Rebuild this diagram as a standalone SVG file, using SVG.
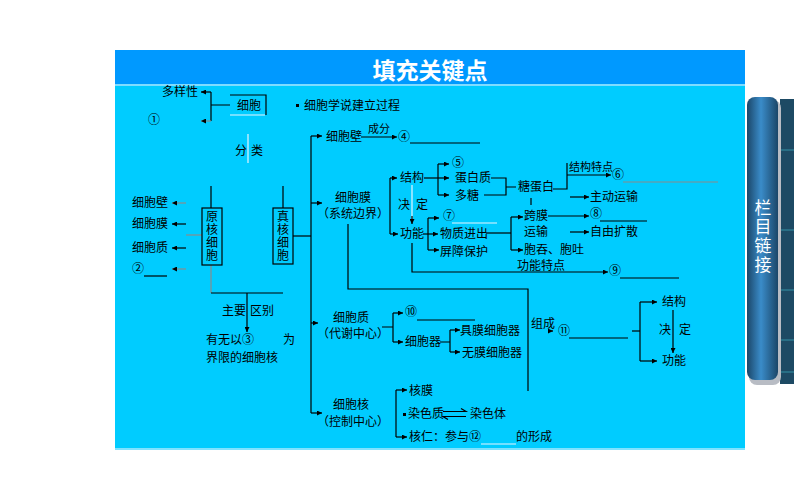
<svg xmlns="http://www.w3.org/2000/svg" width="794" height="496" viewBox="0 0 794 496">
<defs>
<style>
.t{font-family:"Noto Sans CJK SC","Noto Sans",sans-serif;font-size:12px;fill:#000}
.s{font-size:11px}
.v{writing-mode:vertical-rl;letter-spacing:1.3px}
.ln{stroke:#000;stroke-width:1.2;fill:none}
.g{stroke:#8a8a8a;stroke-width:1.2;fill:none}
.w{stroke:#e8f4ff;stroke-width:1.2;fill:none}
.u{stroke:#000;stroke-width:1.2}
.box{fill:none;stroke:#000;stroke-width:1.2}
.tab{font-family:"Noto Sans CJK SC","Noto Sans",sans-serif;font-size:17px;fill:#fff;writing-mode:vertical-rl;letter-spacing:2px}
</style>
<marker id="a" viewBox="0 0 6 6" refX="6" refY="3" markerWidth="5" markerHeight="5" orient="auto" markerUnits="userSpaceOnUse"><path d="M0,0 L6,3 L0,6 z" fill="#000"/></marker>
<linearGradient id="tg" x1="0" y1="0" x2="1" y2="0">
<stop offset="0" stop-color="#1b4668"/><stop offset="0.45" stop-color="#3a8cc9"/><stop offset="1" stop-color="#1b4668"/>
</linearGradient>
</defs>
<rect width="794" height="496" fill="#fff"/>
<!-- panel -->
<rect x="115" y="50" width="630" height="35" fill="#0099ff"/>
<rect x="115" y="84" width="630" height="2" fill="#7fdcff"/>
<rect x="115" y="86" width="630" height="363" fill="#00ccff"/>
<rect x="115" y="448" width="630" height="2" fill="#7fe3ff"/>
<text x="430" y="79" text-anchor="middle" font-family="Noto Sans CJK SC,sans-serif" font-size="23" font-weight="bold" fill="#fff">填充关键点</text>
<!-- right tab -->
<g id="tab">
<rect x="780" y="99" width="14" height="285" fill="#1d4a64"/>
<path d="M781 150H794M781 230H794M781 290H794M781 340H794M781 372H794" stroke="#3aa6b8" stroke-width="0.8"/>
<rect x="749" y="100" width="32" height="285" rx="8" fill="#b8bcc4"/>
<rect x="747" y="97" width="31" height="283" rx="8" fill="url(#tg)"/>
<text class="tab" x="763" y="199">栏目链接</text>
</g>
<!-- connectors -->
<g id="connectors">
<path class="ln" d="M211 92V121M230 105H211" />
<path class="ln" d="M211 92H201" marker-end="url(#a)"/>
<path class="g" d="M211 121H201" marker-end="url(#a)"/>
<path class="ln" d="M230 95H266V115"/>
<path class="w" d="M230 115H265"/>
<path class="w" d="M248 134V163"/>
<path class="ln" d="M211 186V208M283 186V208"/>
<path class="g" d="M186 203H172" marker-end="url(#a)"/>
<path class="ln" d="M186 224H172" marker-end="url(#a)"/>
<path class="ln" d="M186 248H172" marker-end="url(#a)"/>
<path class="g" d="M186 269H172" marker-end="url(#a)"/>
<path class="g" d="M186 235H202"/>
<path class="g" d="M211 265V293"/>
<path class="ln" d="M211 293H283"/>
<path class="ln" d="M247 293V332" marker-end="url(#a)"/>
<path class="ln" d="M293 236H311"/>
<path class="ln" d="M311 136V413"/>
<path class="ln" d="M311 136H322" marker-end="url(#a)"/>
<path class="ln" d="M311 203H322" marker-end="url(#a)"/>
<path class="ln" d="M311 323H318" marker-end="url(#a)"/>
<path class="ln" d="M311 413H322" marker-end="url(#a)"/>
<path class="ln" d="M361 137H397" marker-end="url(#a)"/>
<path class="ln" d="M390 178V234"/>
<path class="ln" d="M390 178H397" marker-end="url(#a)"/>
<path class="ln" d="M390 234H398" marker-end="url(#a)"/>
<path class="w" d="M412 185V222"/>
<path class="ln" d="M412 216V224" marker-end="url(#a)"/>
<path class="ln" d="M424 178H449" marker-end="url(#a)"/>
<path class="ln" d="M438 164V195"/>
<path class="ln" d="M438 164H449" marker-end="url(#a)"/>
<path class="ln" d="M438 195H449" marker-end="url(#a)"/>
<path class="ln" d="M491 178H506V195H484M506 187H516"/>
<path class="ln" d="M553 189H567V163"/>
<path class="ln" d="M567 175H611" marker-end="url(#a)"/>
<path class="ln" d="M531 198V205"/>
<path class="ln" d="M570 197H589" marker-end="url(#a)"/>
<path class="ln" d="M570 232H589" marker-end="url(#a)"/>
<path class="ln" d="M548 216H589" marker-end="url(#a)"/>
<path class="ln" d="M423 234H438" marker-end="url(#a)"/>
<path class="ln" d="M428 218V250"/>
<path class="ln" d="M428 218H439" marker-end="url(#a)"/>
<path class="ln" d="M428 250H439" marker-end="url(#a)"/>
<path class="ln" d="M486 233H511"/>
<path class="ln" d="M511 217V250"/>
<path class="ln" d="M511 217H523" marker-end="url(#a)"/>
<path class="ln" d="M511 250H523" marker-end="url(#a)"/>
<path class="ln" d="M412 243V272H608" marker-end="url(#a)"/>
<path class="ln" d="M348 224V289H528V391"/>
<path class="ln" d="M548 331H553" marker-end="url(#a)"/>
<path class="ln" d="M632 331H640"/>
<path class="ln" d="M640 302V361"/>
<path class="ln" d="M640 302H657" marker-end="url(#a)"/>
<path class="ln" d="M640 361H657" marker-end="url(#a)"/>
<path class="ln" d="M673 310V353" marker-end="url(#a)"/>
<path class="ln" d="M382 327H393M393 313V342"/>
<path class="ln" d="M393 313H403" marker-end="url(#a)"/>
<path class="ln" d="M393 342H403" marker-end="url(#a)"/>
<path class="ln" d="M440 342H450M450 330V352"/>
<path class="ln" d="M450 330H460" marker-end="url(#a)"/>
<path class="ln" d="M450 352H460" marker-end="url(#a)"/>
<path class="ln" d="M396 390V437"/>
<path class="ln" d="M396 390H407" marker-end="url(#a)"/>
<path class="ln" d="M396 437H407" marker-end="url(#a)"/>
<path class="ln" d="M443 411.5H466L461 408.5M466 416.5H443L448 419.5"/>
</g>
<!-- nodes -->
<g id="n-duoyang"><text class="t" x="162" y="96">多样性</text></g>
<g id="n-1"><text class="t" x="148" y="124">①</text></g>
<g id="n-xibao"><text class="t" x="237" y="110">细胞</text></g>
<g id="n-xueshuo"><rect x="296" y="104" width="3" height="3" fill="#000"/><text class="t" x="304" y="110">细胞学说建立过程</text></g>
<g id="n-fenlei"><text class="t" x="235" y="155">分</text><text class="t" x="251" y="155">类</text></g>
<g id="n-yuanhe"><rect class="box" x="202" y="208" width="20" height="57"/><text class="t v" x="212" y="210">原核细胞</text></g>
<g id="n-zhenhe"><rect class="box" x="273" y="208" width="20" height="56"/><text class="t v" x="283" y="210">真核细胞</text></g>
<g id="n-left"><text class="t" x="132" y="207">细胞壁</text><text class="t" x="132" y="228">细胞膜</text><text class="t" x="132" y="252">细胞质</text><text class="t" x="132" y="273">②</text><line class="u" x1="144" y1="276" x2="167" y2="276"/></g>
<g id="n-qubie"><text class="t" x="222" y="315">主要</text><text class="t" x="250" y="315">区别</text></g>
<g id="n-3"><text class="t" x="206" y="344">有无以③</text><text class="t" x="283" y="344">为</text><text class="t" x="206" y="362">界限的细胞核</text></g>
<g id="n-bi"><text class="t" x="326" y="141">细胞壁</text><text class="t s" x="368" y="133">成分</text></g>
<g id="n-4"><text class="t" x="398" y="141">④</text><line class="u" x1="410" y1="143" x2="480" y2="143"/></g>
<g id="n-mo"><text class="t" x="335" y="202">细胞膜</text><text class="t" x="317" y="218">（系统边界）</text></g>
<g id="n-jiegou"><text class="t" x="400" y="182">结构</text></g>
<g id="n-gongneng"><text class="t" x="400" y="238">功能</text></g>
<g id="n-jueding1"><text class="t" x="398" y="209">决</text><text class="t" x="416" y="209">定</text></g>
<g id="n-5"><text class="t" x="452" y="167">⑤</text></g>
<g id="n-dbz"><text class="t" x="455" y="182">蛋白质</text></g>
<g id="n-dt"><text class="t" x="455" y="200">多糖</text></g>
<g id="n-tdb"><text class="t" x="518" y="191">糖蛋白</text></g>
<g id="n-6"><text class="t s" x="569" y="171">结构特点</text><text class="t" x="612" y="179">⑥</text><line class="g" x1="623" y1="182" x2="718" y2="182"/></g>
<g id="n-zdys"><text class="t" x="590" y="201">主动运输</text></g>
<g id="n-kuamo"><text class="t" x="524" y="220">跨膜</text><text class="t" x="524" y="236">运输</text></g>
<g id="n-8"><text class="t" x="590" y="218">⑧</text><line class="u" x1="600" y1="221" x2="647" y2="221"/></g>
<g id="n-zyks"><text class="t" x="590" y="236">自由扩散</text></g>
<g id="n-baotun"><text class="t" x="524" y="254">胞吞、胞吐</text></g>
<g id="n-7"><text class="t" x="443" y="220">⑦</text><line class="w" x1="452" y1="223" x2="497" y2="223"/></g>
<g id="n-wzjc"><text class="t" x="440" y="238">物质进出</text></g>
<g id="n-pzbh"><text class="t" x="440" y="256">屏障保护</text></g>
<g id="n-9"><text class="t" x="517" y="270">功能特点</text><text class="t" x="609" y="275">⑨</text><line class="u" x1="620" y1="278" x2="679" y2="278"/></g>
<g id="n-zhi"><text class="t" x="333" y="322">细胞质</text><text class="t" x="317" y="338">（代谢中心）</text></g>
<g id="n-10"><text class="t" x="405" y="316">⑩</text><line class="u" x1="417" y1="320" x2="475" y2="320"/></g>
<g id="n-xbq"><text class="t" x="405" y="346">细胞器</text></g>
<g id="n-jm"><text class="t" x="460" y="335">具膜细胞器</text></g>
<g id="n-wm"><text class="t" x="462" y="357">无膜细胞器</text></g>
<g id="n-11"><text class="t" x="531" y="328">组成</text><text class="t" x="558" y="335">⑪</text><line class="u" x1="569" y1="338" x2="628" y2="338"/></g>
<g id="n-jg2"><text class="t" x="662" y="306">结构</text></g>
<g id="n-gn2"><text class="t" x="662" y="365">功能</text></g>
<g id="n-jd2"><text class="t" x="659" y="334">决</text><text class="t" x="679" y="334">定</text></g>
<g id="n-he"><text class="t" x="333" y="409">细胞核</text><text class="t" x="317" y="426">（控制中心）</text></g>
<g id="n-hemo"><text class="t" x="409" y="395">核膜</text></g>
<g id="n-rsz"><rect x="403" y="413" width="3" height="3" fill="#000"/><text class="t" x="408" y="418">染色质</text><text class="t" x="470" y="418">染色体</text></g>
<g id="n-heren"><text class="t" x="409" y="441">核仁：参与⑫</text><line class="w" x1="481" y1="444" x2="516" y2="444"/><text class="t" x="516" y="441">的形成</text></g>
</svg>
